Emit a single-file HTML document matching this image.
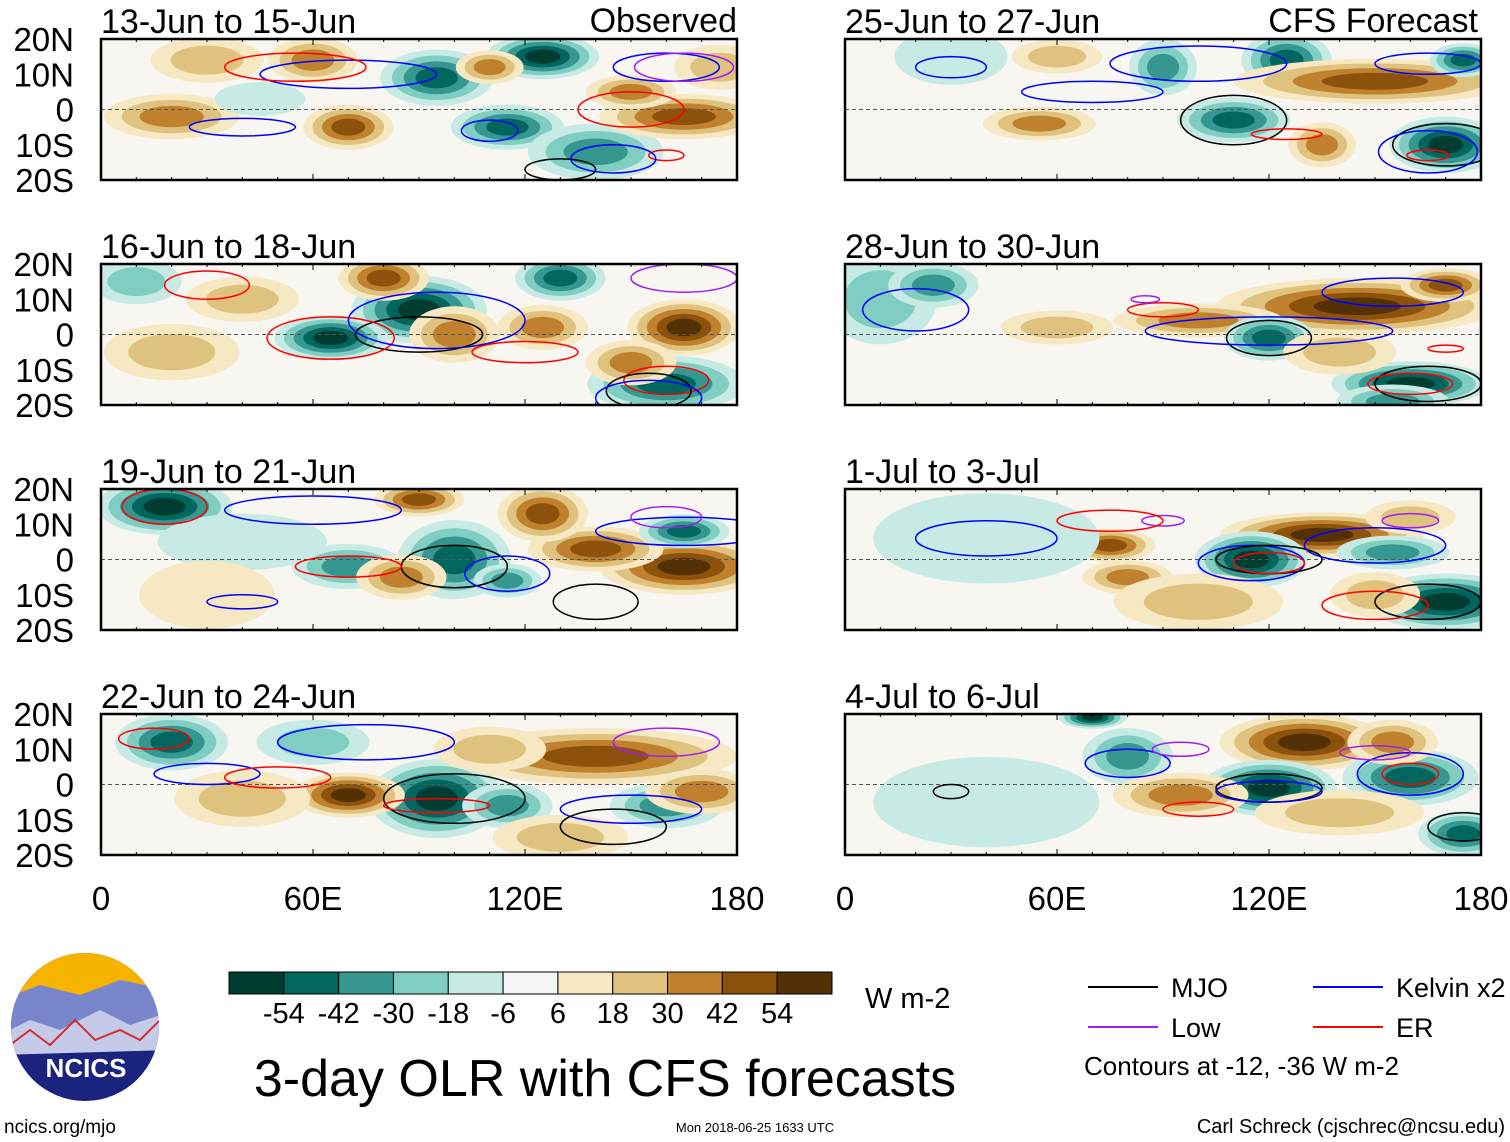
<!DOCTYPE html>
<html><head><meta charset="utf-8"><style>
body{margin:0;background:#fff;width:1510px;height:1142px;overflow:hidden;font-family:"Liberation Sans",sans-serif}
svg{display:block}
</style></head><body>
<svg id="chart" width="1510" height="1142" xmlns="http://www.w3.org/2000/svg" font-family="Liberation Sans, sans-serif"></svg>
<script>
const colorLevels=["#003c30","#01665e","#35978f","#80cdc1","#c7eae5","#f5f5f5","#f6e8c3","#dfc27d","#bf812d","#8c510a","#543005"];
const colorTicks=["-54","-42","-30","-18","-6","6","18","30","42","54"];
const panelTitles=["13-Jun to 15-Jun","25-Jun to 27-Jun","16-Jun to 18-Jun","28-Jun to 30-Jun","19-Jun to 21-Jun","1-Jul to 3-Jul","22-Jun to 24-Jun","4-Jul to 6-Jul"];
const latTicks=[20,10,0,-10,-20];
const latLabels=["20N","10N","0","10S","20S"];
const lonTicks=[0,60,120,180];
const lonLabels=["0","60E","120E","180"];
// blobs: [lon, lat, rx(deg), ry(deg), level(-5..5)]
const blobs0=[[95,9,10,5,-4],[115,-5,10,4,-4],[125,15,10,4,-5],[140,-12,12,5,-3],[20,-2,12,4,3],[70,-5,8,4,4],[165,-2,15,4,4],[150,5,8,3,3],[30,14,10,4,2],[60,14,8,4,3],[110,12,6,3,3],[175,12,8,4,2],[45,3,8,3,-1]];
const blobs1=[[110,-3,10,4,-4],[170,-10,10,5,-5],[125,14,8,5,-4],[90,12,6,5,-3],[150,8,25,4,4],[55,-4,10,3,3],[135,-10,6,4,3],[175,14,6,3,-4],[30,15,10,5,-1],[60,15,8,3,2]];
const blobs2=[[90,7,12,6,-5],[65,-1,10,4,-5],[130,16,8,4,-4],[165,2,10,5,5],[80,16,8,4,4],[100,0,8,5,3],[125,2,8,4,3],[160,-14,14,5,-4],[150,-8,8,4,3],[20,-5,12,5,2],[40,10,10,4,2],[10,15,8,4,-2]];
const blobs3=[[145,8,25,5,5],[100,4,15,3,3],[120,-1,8,4,-4],[160,-14,14,4,-5],[60,2,10,3,2],[140,-5,10,4,2],[10,10,10,8,-2],[25,14,8,4,-3],[170,14,8,3,4],[155,-19,10,3,-3]];
const blobs4=[[18,15,12,5,-5],[100,0,10,7,-4],[165,-2,15,5,5],[140,3,12,4,4],[125,13,8,5,4],[90,17,8,3,4],[70,-2,10,4,-3],[85,-5,8,4,3],[165,8,8,3,-4],[115,-6,6,3,-3],[40,5,15,5,-1],[30,-10,12,6,1]];
const blobs5=[[135,7,18,4,5],[115,0,10,5,-5],[170,-12,14,5,-5],[75,4,8,3,4],[80,-5,8,3,3],[155,2,10,3,-3],[150,-10,8,4,2],[40,6,20,8,-1],[100,-12,15,5,2],[160,12,8,3,2]];
const blobs6=[[95,-4,12,7,-5],[70,-3,10,4,5],[140,8,25,5,4],[160,-6,10,4,-3],[20,12,10,5,-4],[115,-6,8,4,-3],[40,-4,12,5,2],[170,-2,10,4,3],[110,10,10,4,2],[60,12,10,4,-2],[130,-15,12,4,2]];
const blobs7=[[130,12,15,5,5],[120,-1,12,5,-5],[160,2,12,5,-4],[80,8,8,5,-3],[95,-3,12,4,3],[175,-14,8,4,-4],[70,19,6,2,-5],[40,-5,20,8,-1],[140,-8,15,4,2],[155,12,8,4,3]];
// contours: [lon, lat, rx, ry, type]  type: 0 MJO,1 Kelvin,2 Low,3 ER
const cont0=[[40,-5,15,2.5,1],[70,10,25,4,1],[160,12,15,4,1],[165,12,14,4,2],[160,-13,5,1.5,3],[130,-17,10,3,0],[55,12,20,4,3],[150,0,15,5,3],[145,-14,12,4,1],[110,-6,8,3,1]];
const cont1=[[110,-3,15,7,0],[170,-10,15,6,0],[165,-12,14,6,1],[125,-7,10,1.5,3],[100,13,25,5,1],[165,13,15,3,1],[30,12,10,3,1],[165,-13,6,1.5,3],[70,5,20,3,1]];
const cont2=[[90,0,18,5,0],[65,-1,18,6,3],[95,4,25,8,1],[165,16,15,4,2],[160,-13,12,4,3],[155,-16,12,5,0],[30,14,12,4,3],[120,-5,15,3,3],[155,-18,15,5,1]];
const cont3=[[120,-1,12,5,0],[165,-14,15,5,0],[160,-14,12,3,3],[120,1,35,4,1],[155,12,20,4,1],[90,7,10,2,3],[20,7,15,6,1],[170,-4,5,1,3],[85,10,4,1,2]];
const cont4=[[18,15,12,5,3],[100,-2,15,6,0],[70,-2,15,3,3],[115,-4,12,5,1],[165,8,25,4,1],[160,12,10,3,2],[140,-12,12,5,0],[60,14,25,4,1],[40,-12,10,2,1]];
const cont5=[[115,-1,15,5,1],[120,0,15,4,0],[120,-1,10,3,3],[165,-12,15,5,0],[150,-13,15,4,3],[150,4,20,5,1],[40,6,20,5,1],[160,11,8,2,2],[90,11,6,1.5,2],[75,11,15,3,3]];
const cont6=[[100,-4,20,7,0],[15,13,10,3,3],[150,-7,20,4,1],[145,-12,15,5,0],[95,-6,15,2,3],[75,12,25,5,1],[160,12,15,4,2],[30,3,15,3,1],[50,2,15,3,3]];
const cont7=[[120,-1,15,4,0],[120,-2,15,3,1],[160,3,15,6,1],[160,3,8,3,3],[100,-7,10,2,3],[80,6,12,4,1],[150,9,10,2,2],[95,10,8,2,2],[175,-12,10,4,0],[30,-2,5,2,0]];
const allBlobs=[blobs0,blobs1,blobs2,blobs3,blobs4,blobs5,blobs6,blobs7];
const allConts=[cont0,cont1,cont2,cont3,cont4,cont5,cont6,cont7];
const contColors=["#000000","#0000ff","#a020f0","#ff0000"];

const svg=document.getElementById('chart');
const NS="http://www.w3.org/2000/svg";
function mk(tag,attrs,parent){const e=document.createElementNS(NS,tag);for(const k in attrs)e.setAttribute(k,attrs[k]);(parent||svg).appendChild(e);return e;}
function txt(s,x,y,size,anchor,parent){const t=mk('text',{x:x,y:y,'font-size':size,'text-anchor':anchor||'start',fill:'#000'},parent);t.textContent=s;return t;}
const colX=[101,845], W=636, rowY=[39,264,489,714], H=141;
function xS(c,lon){return colX[c]+lon/180*W;}
function yS(r,lat){return rowY[r]+(20-lat)/40*H;}
const spread=1.6;

for(let p=0;p<8;p++){
  const c=p%2, r=Math.floor(p/2);
  const g=mk('g',{});
  
  
  const cid='clip'+p;
  const cp=mk('clipPath',{id:cid},g);mk('rect',{x:colX[c],y:rowY[r],width:W,height:H},cp);
  const inner=mk('g',{'clip-path':'url(#'+cid+')'},g);
  mk('rect',{x:colX[c],y:rowY[r],width:W,height:H,fill:'#f8f6f0'},inner);
  allBlobs[p].forEach(b=>{
    const n=Math.abs(b[4]), s=Math.sign(b[4]);
    for(let k=1;k<=n;k++){
      const f=spread*(1-(k-1)/(n+0.8));
      const e=mk('ellipse',{cx:xS(c,b[0]),cy:yS(r,b[1]),rx:b[2]/180*W*f,ry:b[3]/40*H*f,fill:colorLevels[5+s*k]},inner);
      
      
    }
  });
  mk('line',{x1:colX[c],x2:colX[c]+W,y1:yS(r,0),y2:yS(r,0),stroke:'#555','stroke-dasharray':'4,3','stroke-width':1},inner);
  allConts[p].forEach(ct=>{
    const e=mk('ellipse',{cx:xS(c,ct[0]),cy:yS(r,ct[1]),rx:ct[2]/180*W,ry:ct[3]/40*H,fill:'none',stroke:contColors[ct[4]],'stroke-width':1.5},inner);
    
    
  });
  mk('rect',{x:colX[c],y:rowY[r],width:W,height:H,fill:'none',stroke:'#000','stroke-width':2.5},g);
  for(let lon=0;lon<=180;lon+=10){const L=lon%60==0?6:3;
    mk('line',{x1:xS(c,lon),x2:xS(c,lon),y1:rowY[r],y2:rowY[r]+L,stroke:'#000'},g);
    mk('line',{x1:xS(c,lon),x2:xS(c,lon),y1:rowY[r]+H,y2:rowY[r]+H-L,stroke:'#000'},g);}
  const tt=txt(panelTitles[p],colX[c],rowY[r]-6,34,'start',g);
  
  
  if(c==0){latTicks.forEach((lt,i)=>{const t=txt(latLabels[i],74,yS(r,lt)+12,33,'end',g);
    
    });}
}
const t1=txt("Observed",737,32,34,'end');
const t2=txt("CFS Forecast",1478,32,34,'end');
for(let c=0;c<2;c++){lonTicks.forEach((ln,i)=>{const t=txt(lonLabels[i],xS(c,ln),910,33,'middle');
  
  });}
// colorbar
const cb=mk('g',{});
const cbx=229,cbw=603/colorLevels.length;
colorLevels.forEach((col,i)=>{mk('rect',{x:cbx+i*cbw,y:972,width:cbw,height:22,fill:col,stroke:'#000','stroke-width':1},cb);});
colorTicks.forEach((s,i)=>{txt(s,cbx+(i+1)*cbw,1023,29,'middle',cb);});
txt("W m-2",865,1008,29,'start');
const ti=txt("3-day OLR with CFS forecasts",605,1096,52,'middle');
// legend
const leg=[["MJO",1088,987,0],["Kelvin x2",1313,987,1],["Low",1088,1027,2],["ER",1313,1027,3]];
leg.forEach(l=>{const g=mk('g',{});
  mk('line',{x1:l[1],x2:l[1]+70,y1:l[2],y2:l[2],stroke:contColors[l[3]],'stroke-width':2},g);
  txt(l[0],l[1]+83,l[2]+10,27,'start',g);});
txt("Contours at -12, -36 W m-2",1084,1075,26,'start');
// logo
const lg=mk('g',{});
mk('clipPath',{id:'lc'},lg).appendChild(document.createElementNS(NS,'circle'));
const lcc=document.querySelector('#lc circle');lcc.setAttribute('cx',85);lcc.setAttribute('cy',1027);lcc.setAttribute('r',74);
const lgi=mk('g',{'clip-path':'url(#lc)'},lg);
mk('rect',{x:0,y:950,width:170,height:160,fill:'#1a237e'},lgi);
mk('rect',{x:0,y:950,width:170,height:50,fill:'#f6b400'},lgi);
mk('path',{d:'M0 1000 L40 985 L80 995 L120 980 L170 990 L170 1030 L0 1040Z',fill:'#7986cb'},lgi);
mk('path',{d:'M0 1035 L30 1020 L60 1030 L100 1010 L130 1025 L170 1012 L170 1050 L0 1055Z',fill:'#c5cae9'},lgi);
mk('path',{d:'M10 1045 L30 1030 L50 1045 L75 1020 L95 1040 L120 1030 L140 1040 L160 1020',fill:'none',stroke:'#d32f2f','stroke-width':2},lgi);
const lt=mk('text',{x:86,y:1077,'font-size':26,'font-weight':'bold','text-anchor':'middle',fill:'#fff'},lg);lt.textContent="NCICS";
txt("ncics.org/mjo",4,1133,19,'start');
txt("Mon 2018-06-25 1633 UTC",755,1132,13,'middle');
txt("Carl Schreck (cjschrec@ncsu.edu)",1505,1133,20,'end');
</script>
</body></html>
